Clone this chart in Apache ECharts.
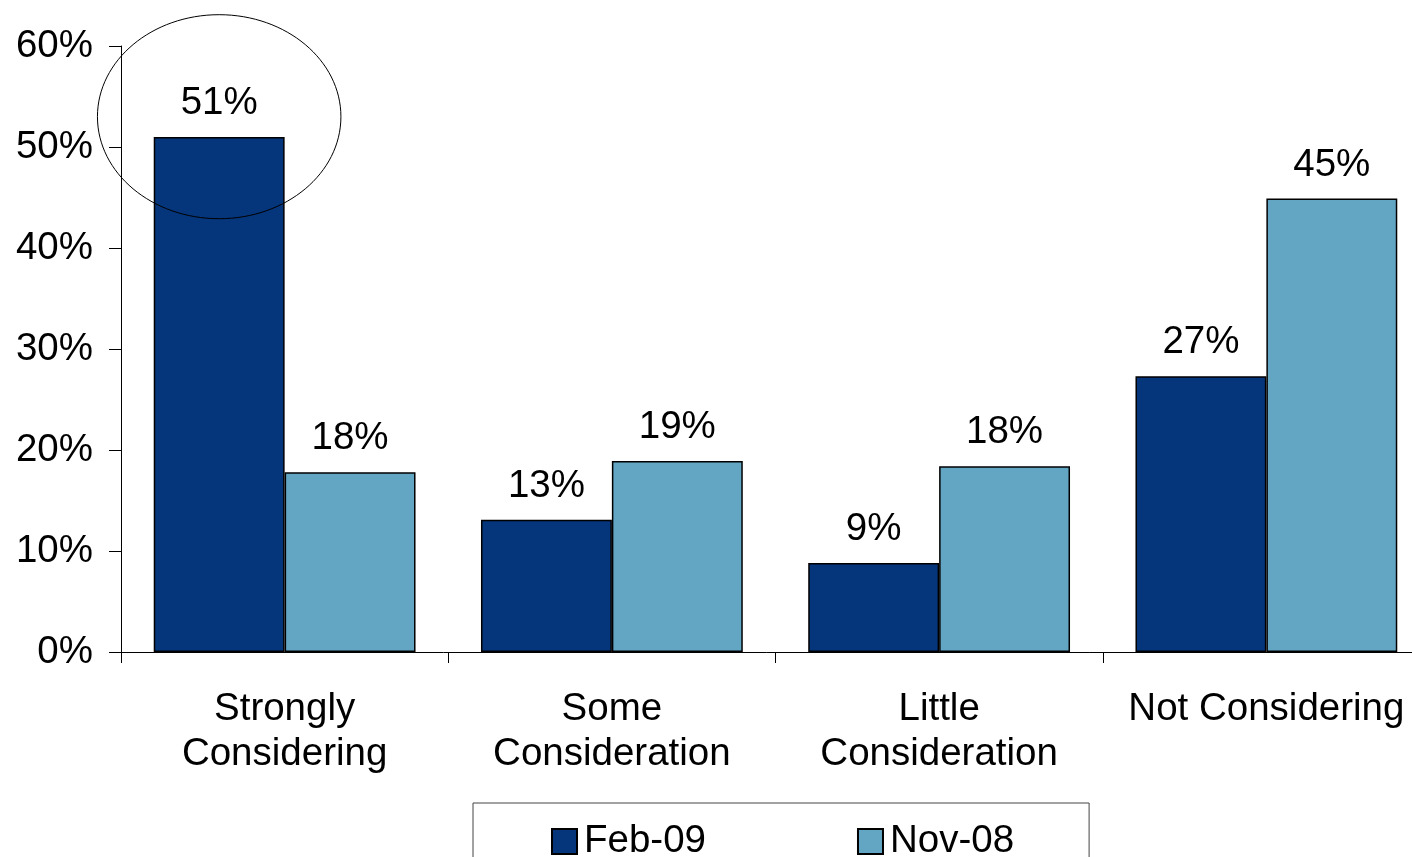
<!DOCTYPE html>
<html>
<head>
<meta charset="utf-8">
<script src="https://cdn.jsdelivr.net/npm/echarts@6/dist/echarts.min.js"></script>
<style>
  html, body { margin: 0; padding: 0; background: #fff; }
  #main { width: 1412px; height: 857px; }
</style>
</head>
<body>
<div id="main"></div>
<script>
var categories = ['Strongly\nConsidering', 'Some\nConsideration', 'Little\nConsideration', 'Not Considering'];
var feb09 = [51.0, 13.1, 8.8, 27.3];
var nov08 = [17.8, 18.9, 18.4, 44.9];
var yTicks = [0, 10, 20, 30, 40, 50, 60];

var font = 'Liberation Sans, Arial, sans-serif';
var fs = 38.5;

var chart = echarts.init(document.getElementById('main'));

var labelOpt = {
    show: true,
    position: 'top',
    distance: 14,
    fontFamily: font,
    fontSize: fs,
    color: '#000',
    formatter: function (p) { return Math.round(p.value) + '%'; }
};

var option = {
    animation: false,
    backgroundColor: '#fff',
    textStyle: { fontFamily: font },
    grid: { left: 121, top: 46, width: 1309, height: 606, outerBoundsMode: 'none' },
    legend: {
        left: 473,
        top: 803,
        padding: [19, 75, 20, 78],
        itemWidth: 25,
        itemHeight: 25,
        itemGap: 151,
        icon: 'rect',
        borderColor: '#444',
        borderWidth: 1,
        textStyle: { fontFamily: font, fontSize: fs, color: '#000', padding: [0, 0, 0, 2] },
        data: ['Feb-09', 'Nov-08']
    },
    xAxis: {
        type: 'category',
        data: categories,
        axisLine: { lineStyle: { color: '#000', width: 1 } },
        axisTick: { show: true, length: 11, lineStyle: { color: '#000' } },
        axisLabel: { interval: 0, fontFamily: font, fontSize: fs, color: '#000', lineHeight: 45, margin: 35 }
    },
    yAxis: {
        type: 'value',
        min: yTicks[0],
        max: yTicks[yTicks.length - 1],
        interval: 10,
        axisLine: { show: true, lineStyle: { color: '#000', width: 1 } },
        axisTick: { show: true, length: 12, lineStyle: { color: '#000' } },
        splitLine: { show: false },
        axisLabel: { fontFamily: font, fontSize: fs, color: '#000', margin: 28, formatter: '{value}%' }
    },
    series: [{
        name: 'Feb-09',
        type: 'bar',
        data: feb09,
        barGap: '0%',
        barCategoryGap: '20%',
        itemStyle: { color: '#05357A', borderColor: '#000', borderWidth: 1.5 },
        label: labelOpt
    }, {
        name: 'Nov-08',
        type: 'bar',
        data: nov08,
        barGap: '0%',
        barCategoryGap: '20%',
        itemStyle: { color: '#63A6C4', borderColor: '#000', borderWidth: 1.5 },
        label: labelOpt
    }]
};

chart.setOption(option);

// circle highlighting the top bar, placed from the bar's own layout
var lay = chart.getModel().getSeriesByIndex(0).getData().getItemLayout(0);
var yTop = chart.convertToPixel({ yAxisIndex: 0 }, 63.1);
var yBot = chart.convertToPixel({ yAxisIndex: 0 }, 42.9);
chart.setOption({
    graphic: [{
        type: 'ellipse',
        shape: {
            cx: lay.x + lay.width / 2,
            cy: (yTop + yBot) / 2,
            rx: lay.width * 0.93,
            ry: (yBot - yTop) / 2
        },
        style: { fill: 'none', stroke: '#000', lineWidth: 1 },
        z: 100
    }]
});
</script>
</body>
</html>
